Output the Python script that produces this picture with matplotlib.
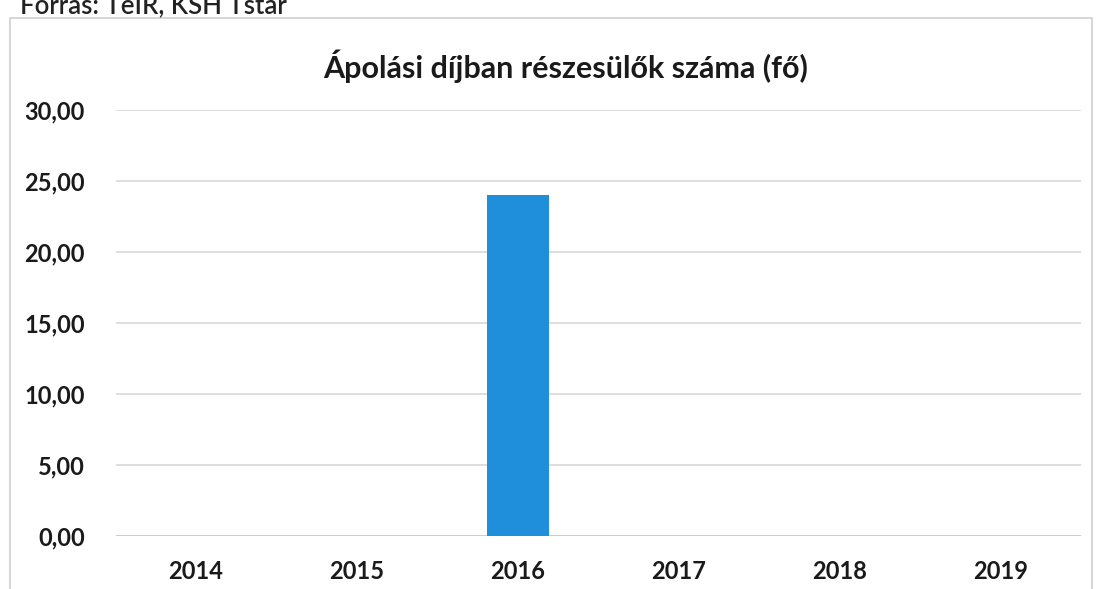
import matplotlib
matplotlib.use("Agg")
import matplotlib.pyplot as plt
from matplotlib.patches import Rectangle

years = ["2014", "2015", "2016", "2017", "2018", "2019"]
values = [0, 0, 24, 0, 0, 0]
yticks = [0, 5, 10, 15, 20, 25, 30]

plt.rcParams['font.family'] = ['Lato', 'DejaVu Sans']

fig = plt.figure(figsize=(11, 5.89), dpi=100)

# chart frame (scan of an Excel chart)
fig.patches.append(Rectangle((10 / 1100, -0.01), 1082 / 1100, (589 - 18) / 589 + 0.01,
                             transform=fig.transFigure, fill=False,
                             edgecolor='#d0d0d0', linewidth=1.2))
# source line, cut off at the top of the scan
fig.text(20 / 1100, 1 - 13 / 589, "Forrás: TeIR, KSH Tstar", fontsize=18.5,
         color='#222222', va='baseline', ha='left', fontweight='semibold')

ax = fig.add_axes([0.105, 0.090, 0.878, 0.723])
x = range(len(years))
ax.bar(x, values, width=0.39, color='#1f8fdb', zorder=3)

ax.set_xlim(-0.5, len(years) - 0.5)
ax.set_ylim(0, 30)
ax.set_yticks(yticks)
ax.set_yticklabels([f"{v:.2f}".replace('.', ',') for v in yticks])
ax.set_xticks(list(x))
ax.set_xticklabels(years)
ax.tick_params(axis='both', length=0, labelsize=17, colors='#1a1a1a')
ax.tick_params(axis='y', pad=22)
ax.tick_params(axis='x', pad=17)
for lab in ax.get_xticklabels() + ax.get_yticklabels():
    lab.set_fontweight('bold')

ax.grid(axis='y', color='#d4d4d4', linewidth=1.1, zorder=0)
for s in ax.spines.values():
    s.set_visible(False)
ax.axhline(0, color='#c8c8c8', linewidth=1.1, zorder=2)

fig.text(566 / 1100, 1 - 66 / 589, "Ápolási díjban részesülők száma (fő)",
         fontsize=22, fontweight='bold', color='#1a1a1a', ha='center', va='center')

fig.savefig("out.png", dpi=100)
